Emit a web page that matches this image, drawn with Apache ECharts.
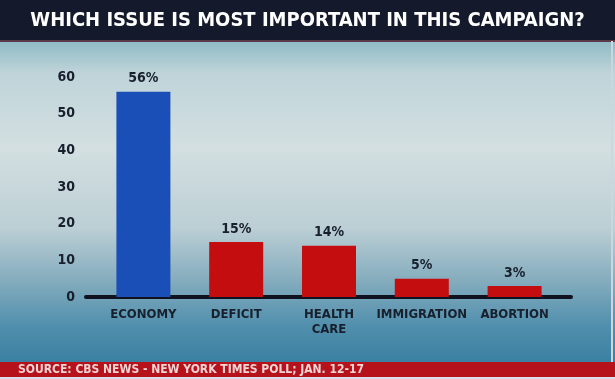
<!DOCTYPE html>
<html>
<head>
<meta charset="utf-8">
<script src="https://cdn.jsdelivr.net/npm/echarts@6/dist/echarts.min.js"></script>
<style>
html,body{margin:0;padding:0;background:#141a2c;}
#c{width:615px;height:379px;}
</style>
</head>
<body>
<div id="c"></div>
<script>
var titleText = 'WHICH ISSUE IS MOST IMPORTANT IN THIS CAMPAIGN?';
var sourceText = 'SOURCE: CBS NEWS - NEW YORK TIMES POLL; JAN. 12-17';
var categories = ['ECONOMY', 'DEFICIT', 'HEALTH\nCARE', 'IMMIGRATION', 'ABORTION'];
var values = [56, 15, 14, 5, 3];
var yTicks = [0, 10, 20, 30, 40, 50, 60];

var FONT = '"DejaVu Sans Condensed", "DejaVu Sans", sans-serif';
var INK = '#18202e';
var chart = echarts.init(document.getElementById('c'), null, {renderer: 'canvas'});

chart.setOption({
  animation: false,
  backgroundColor: '#141a2c',
  graphic: [
    {type: 'rect', z: -10, silent: true, shape: {x: 0, y: 41, width: 615, height: 322},
      style: {fill: new echarts.graphic.LinearGradient(0, 0, 0, 1, [
        {offset: 0, color: '#8fbac5'},
        {offset: 0.1, color: '#bfd4d9'},
        {offset: 0.33, color: '#d3dfe1'},
        {offset: 0.58, color: '#bccfd4'},
        {offset: 0.74, color: '#86adbe'},
        {offset: 0.88, color: '#5290ad'},
        {offset: 1, color: '#3a7fa1'}
      ])}},
    {type: 'rect', z: -9, silent: true, shape: {x: 0, y: 40, width: 615, height: 2}, style: {fill: '#5a3a48'}},
    {type: 'rect', z: -9, silent: true, shape: {x: 0, y: 362, width: 615, height: 15}, style: {fill: '#b5121b'}},
    {type: 'rect', z: -9, silent: true, shape: {x: 0, y: 377, width: 615, height: 2}, style: {fill: '#d8dfe6'}},
    {type: 'rect', z: -9, silent: true, shape: {x: 611, y: 41, width: 2, height: 321}, style: {fill: '#c8d8de'}}
  ],
  title: [
    {text: titleText, left: 'center', top: 10, padding: 0,
      textStyle: {color: '#ffffff', fontFamily: FONT, fontWeight: 'bold', fontSize: 20, lineHeight: 22}},
    {text: sourceText, left: 18, top: 363, padding: 0,
      textStyle: {color: '#f3d6d6', fontFamily: FONT, fontWeight: 'bold', fontSize: 12, lineHeight: 14}}
  ],
  grid: [
    {left: 97, right: 54, top: 77, bottom: 82},
    {left: 86, right: 44, top: 77, bottom: 82}
  ],
  xAxis: [
    {type: 'category', gridIndex: 0, data: categories,
      axisLine: {show: false}, axisTick: {show: false},
      axisLabel: {color: INK, fontFamily: FONT, fontWeight: 'bold', fontSize: 13, lineHeight: 15, margin: 10, interval: 0}},
    {type: 'value', gridIndex: 1, min: 0, max: 1,
      axisLine: {show: true, lineStyle: {color: '#10131f', width: 4}},
      axisTick: {show: false}, axisLabel: {show: false}, splitLine: {show: false}}
  ],
  yAxis: [
    {type: 'value', gridIndex: 0, min: 0, max: 60, interval: 10,
      axisLine: {show: false}, axisTick: {show: false}, splitLine: {show: false},
      axisLabel: {color: INK, fontFamily: FONT, fontWeight: 'bold', fontSize: 14, margin: 22,
        formatter: function (v) { return yTicks.indexOf(v) >= 0 ? String(v) : ''; }}},
    {type: 'value', gridIndex: 1, min: 0, max: 60, show: false}
  ],
  series: [
    {type: 'bar', xAxisIndex: 0, yAxisIndex: 0, data: values, barWidth: 54, z: 1,
      itemStyle: {color: function (p) { return p.dataIndex === 0 ? '#1b4fb8' : '#c40d0e'; }},
      label: {show: true, position: 'top', distance: 6, formatter: '{c}%',
        color: INK, fontFamily: FONT, fontWeight: 'bold', fontSize: 14}}
  ]
});
</script>
</body>
</html>
